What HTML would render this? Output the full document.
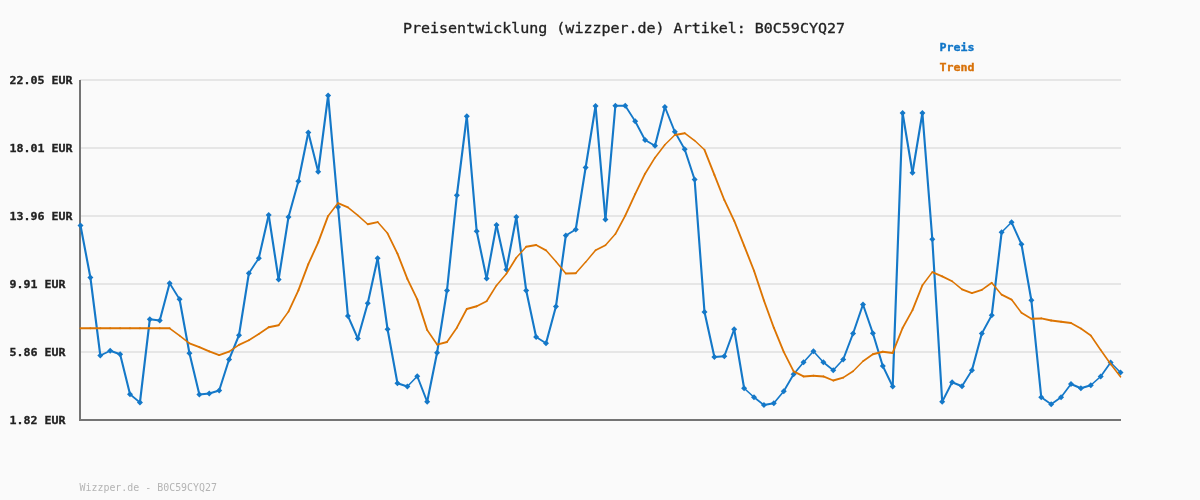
<!DOCTYPE html>
<html><head><meta charset="utf-8"><title>Preisentwicklung</title>
<style>
html,body{margin:0;padding:0;background:#fafafa;}
body{width:1200px;height:500px;overflow:hidden;}
svg{display:block;}
text{font-family:"DejaVu Sans Mono","Liberation Mono",monospace;}
.ax{font-family:"DejaVu Sans Mono","Liberation Mono",monospace;font-size:11px;font-weight:bold;fill:#222;stroke:#222;stroke-width:0.3px;}
.ti{font-size:13.7px;fill:#222;stroke:#222;stroke-width:0.3px;}
.lg{font-size:11px;font-weight:bold;}
.ft{font-size:11px;fill:#b4b4b4;}
</style></head><body>
<svg width="1200" height="500" viewBox="0 0 1200 500">
<rect width="1200" height="500" fill="#fafafa"/>
<rect x="80" y="79" width="1041" height="2" fill="#e6e6e6"/><rect x="80" y="147" width="1041" height="2" fill="#e6e6e6"/><rect x="80" y="215" width="1041" height="2" fill="#e6e6e6"/><rect x="80" y="283" width="1041" height="2" fill="#e6e6e6"/><rect x="80" y="351" width="1041" height="2" fill="#e6e6e6"/>
<rect x="79" y="80" width="2" height="341" fill="#747474"/>
<rect x="79" y="419" width="1042" height="2" fill="#747474"/>
<text x="403" y="33" textLength="442" lengthAdjust="spacingAndGlyphs" class="ti">Preisentwicklung (wizzper.de) Artikel: B0C59CYQ27</text>
<text transform="translate(9.5 84) scale(1 1)" textLength="63" lengthAdjust="spacingAndGlyphs" class="ax">22.05 EUR</text><text transform="translate(9.5 152) scale(1 1)" textLength="63" lengthAdjust="spacingAndGlyphs" class="ax">18.01 EUR</text><text transform="translate(9.5 220) scale(1 1)" textLength="63" lengthAdjust="spacingAndGlyphs" class="ax">13.96 EUR</text><text transform="translate(9.5 288) scale(1 1)" textLength="56" lengthAdjust="spacingAndGlyphs" class="ax">9.91 EUR</text><text transform="translate(9.5 356) scale(1 1)" textLength="56" lengthAdjust="spacingAndGlyphs" class="ax">5.86 EUR</text><text transform="translate(9.5 424) scale(1 1)" textLength="56" lengthAdjust="spacingAndGlyphs" class="ax">1.82 EUR</text>
<text x="939.4" y="51" textLength="35" lengthAdjust="spacingAndGlyphs" class="lg" fill="#1176c8" stroke="#1176c8" stroke-width="0.35">Preis</text>
<text x="939.4" y="71" textLength="35" lengthAdjust="spacingAndGlyphs" class="lg" fill="#d8720a" stroke="#d8720a" stroke-width="0.35">Trend</text>
<g stroke="#1478c8" stroke-linecap="round" fill="none"><line x1="80.50" y1="225.50" x2="90.40" y2="277.50" stroke-width="2.11"/><line x1="90.40" y1="277.50" x2="100.31" y2="355.50" stroke-width="2.13"/><line x1="100.31" y1="355.50" x2="110.21" y2="350.75" stroke-width="1.94"/><line x1="110.21" y1="350.75" x2="120.12" y2="354.25" stroke-width="2.03"/><line x1="120.12" y1="354.25" x2="130.02" y2="394.25" stroke-width="2.09"/><line x1="130.02" y1="394.25" x2="139.93" y2="402.50" stroke-width="1.65"/><line x1="139.93" y1="402.50" x2="149.83" y2="319.25" stroke-width="2.13"/><line x1="149.83" y1="319.25" x2="159.74" y2="320.50" stroke-width="2.13"/><line x1="159.74" y1="320.50" x2="169.64" y2="283.25" stroke-width="2.08"/><line x1="169.64" y1="283.25" x2="179.55" y2="299.25" stroke-width="1.83"/><line x1="179.55" y1="299.25" x2="189.45" y2="353.25" stroke-width="2.11"/><line x1="189.45" y1="353.25" x2="199.36" y2="394.50" stroke-width="2.09"/><line x1="199.36" y1="394.50" x2="209.26" y2="393.50" stroke-width="2.14"/><line x1="209.26" y1="393.50" x2="219.17" y2="390.50" stroke-width="2.06"/><line x1="219.17" y1="390.50" x2="229.07" y2="359.50" stroke-width="2.05"/><line x1="229.07" y1="359.50" x2="238.98" y2="335.25" stroke-width="1.99"/><line x1="238.98" y1="335.25" x2="248.88" y2="273.25" stroke-width="2.12"/><line x1="248.88" y1="273.25" x2="258.79" y2="258.25" stroke-width="1.79"/><line x1="258.79" y1="258.25" x2="268.69" y2="215.00" stroke-width="2.10"/><line x1="268.69" y1="215.00" x2="278.60" y2="279.50" stroke-width="2.13"/><line x1="278.60" y1="279.50" x2="288.50" y2="217.00" stroke-width="2.12"/><line x1="288.50" y1="217.00" x2="298.40" y2="181.25" stroke-width="2.07"/><line x1="298.40" y1="181.25" x2="308.31" y2="132.50" stroke-width="2.11"/><line x1="308.31" y1="132.50" x2="318.21" y2="171.75" stroke-width="2.08"/><line x1="318.21" y1="171.75" x2="328.12" y2="95.50" stroke-width="2.13"/><line x1="328.12" y1="95.50" x2="338.02" y2="207.00" stroke-width="2.14"/><line x1="338.02" y1="207.00" x2="347.93" y2="316.00" stroke-width="2.14"/><line x1="347.93" y1="316.00" x2="357.83" y2="338.50" stroke-width="1.97"/><line x1="357.83" y1="338.50" x2="367.74" y2="303.25" stroke-width="2.07"/><line x1="367.74" y1="303.25" x2="377.64" y2="258.25" stroke-width="2.10"/><line x1="377.64" y1="258.25" x2="387.55" y2="329.25" stroke-width="2.13"/><line x1="387.55" y1="329.25" x2="397.45" y2="383.25" stroke-width="2.11"/><line x1="397.45" y1="383.25" x2="407.36" y2="386.50" stroke-width="2.04"/><line x1="407.36" y1="386.50" x2="417.26" y2="376.25" stroke-width="1.55"/><line x1="417.26" y1="376.25" x2="427.17" y2="401.75" stroke-width="2.00"/><line x1="427.17" y1="401.75" x2="437.07" y2="352.75" stroke-width="2.11"/><line x1="437.07" y1="352.75" x2="446.98" y2="290.50" stroke-width="2.12"/><line x1="446.98" y1="290.50" x2="456.88" y2="195.25" stroke-width="2.14"/><line x1="456.88" y1="195.25" x2="466.79" y2="116.25" stroke-width="2.13"/><line x1="466.79" y1="116.25" x2="476.69" y2="231.25" stroke-width="2.14"/><line x1="476.69" y1="231.25" x2="486.60" y2="278.50" stroke-width="2.10"/><line x1="486.60" y1="278.50" x2="496.50" y2="225.00" stroke-width="2.11"/><line x1="496.50" y1="225.00" x2="506.40" y2="269.50" stroke-width="2.10"/><line x1="506.40" y1="269.50" x2="516.31" y2="217.00" stroke-width="2.11"/><line x1="516.31" y1="217.00" x2="526.21" y2="290.50" stroke-width="2.13"/><line x1="526.21" y1="290.50" x2="536.12" y2="337.00" stroke-width="2.10"/><line x1="536.12" y1="337.00" x2="546.02" y2="343.25" stroke-width="1.82"/><line x1="546.02" y1="343.25" x2="555.93" y2="306.50" stroke-width="2.08"/><line x1="555.93" y1="306.50" x2="565.83" y2="235.50" stroke-width="2.13"/><line x1="565.83" y1="235.50" x2="575.74" y2="229.50" stroke-width="1.84"/><line x1="575.74" y1="229.50" x2="585.64" y2="167.50" stroke-width="2.12"/><line x1="585.64" y1="167.50" x2="595.55" y2="106.00" stroke-width="2.12"/><line x1="595.55" y1="106.00" x2="605.45" y2="219.50" stroke-width="2.14"/><line x1="605.45" y1="219.50" x2="615.36" y2="105.75" stroke-width="2.14"/><line x1="615.36" y1="105.75" x2="625.26" y2="105.75" stroke-width="2.15"/><line x1="625.26" y1="105.75" x2="635.17" y2="121.25" stroke-width="1.81"/><line x1="635.17" y1="121.25" x2="645.07" y2="140.00" stroke-width="1.90"/><line x1="645.07" y1="140.00" x2="654.98" y2="145.75" stroke-width="1.86"/><line x1="654.98" y1="145.75" x2="664.88" y2="107.00" stroke-width="2.08"/><line x1="664.88" y1="107.00" x2="674.79" y2="131.75" stroke-width="2.00"/><line x1="674.79" y1="131.75" x2="684.69" y2="149.25" stroke-width="1.87"/><line x1="684.69" y1="149.25" x2="694.60" y2="179.50" stroke-width="2.04"/><line x1="694.60" y1="179.50" x2="704.50" y2="312.00" stroke-width="2.14"/><line x1="704.50" y1="312.00" x2="714.40" y2="357.00" stroke-width="2.10"/><line x1="714.40" y1="357.00" x2="724.31" y2="356.25" stroke-width="2.14"/><line x1="724.31" y1="356.25" x2="734.21" y2="329.25" stroke-width="2.02"/><line x1="734.21" y1="329.25" x2="744.12" y2="388.25" stroke-width="2.12"/><line x1="744.12" y1="388.25" x2="754.02" y2="397.25" stroke-width="1.59"/><line x1="754.02" y1="397.25" x2="763.93" y2="405.00" stroke-width="1.69"/><line x1="763.93" y1="405.00" x2="773.83" y2="403.25" stroke-width="2.12"/><line x1="773.83" y1="403.25" x2="783.74" y2="391.25" stroke-width="1.66"/><line x1="783.74" y1="391.25" x2="793.64" y2="374.25" stroke-width="1.86"/><line x1="793.64" y1="374.25" x2="803.55" y2="362.25" stroke-width="1.66"/><line x1="803.55" y1="362.25" x2="813.45" y2="351.25" stroke-width="1.60"/><line x1="813.45" y1="351.25" x2="823.36" y2="362.25" stroke-width="1.60"/><line x1="823.36" y1="362.25" x2="833.26" y2="370.25" stroke-width="1.67"/><line x1="833.26" y1="370.25" x2="843.17" y2="359.50" stroke-width="1.58"/><line x1="843.17" y1="359.50" x2="853.07" y2="333.50" stroke-width="2.01"/><line x1="853.07" y1="333.50" x2="862.98" y2="304.50" stroke-width="2.03"/><line x1="862.98" y1="304.50" x2="872.88" y2="333.25" stroke-width="2.03"/><line x1="872.88" y1="333.25" x2="882.79" y2="366.00" stroke-width="2.06"/><line x1="882.79" y1="366.00" x2="892.69" y2="386.50" stroke-width="1.94"/><line x1="892.69" y1="386.50" x2="902.60" y2="113.00" stroke-width="2.15"/><line x1="902.60" y1="113.00" x2="912.50" y2="172.75" stroke-width="2.12"/><line x1="912.50" y1="172.75" x2="922.40" y2="113.00" stroke-width="2.12"/><line x1="922.40" y1="113.00" x2="932.31" y2="239.25" stroke-width="2.14"/><line x1="932.31" y1="239.25" x2="942.21" y2="401.75" stroke-width="2.15"/><line x1="942.21" y1="401.75" x2="952.12" y2="382.25" stroke-width="1.92"/><line x1="952.12" y1="382.25" x2="962.02" y2="386.25" stroke-width="1.99"/><line x1="962.02" y1="386.25" x2="971.93" y2="370.25" stroke-width="1.83"/><line x1="971.93" y1="370.25" x2="981.83" y2="333.50" stroke-width="2.08"/><line x1="981.83" y1="333.50" x2="991.74" y2="315.25" stroke-width="1.89"/><line x1="991.74" y1="315.25" x2="1001.64" y2="232.25" stroke-width="2.13"/><line x1="1001.64" y1="232.25" x2="1011.55" y2="222.25" stroke-width="1.53"/><line x1="1011.55" y1="222.25" x2="1021.45" y2="244.25" stroke-width="1.96"/><line x1="1021.45" y1="244.25" x2="1031.36" y2="300.25" stroke-width="2.12"/><line x1="1031.36" y1="300.25" x2="1041.26" y2="397.25" stroke-width="2.14"/><line x1="1041.26" y1="397.25" x2="1051.17" y2="404.25" stroke-width="1.76"/><line x1="1051.17" y1="404.25" x2="1061.07" y2="397.25" stroke-width="1.76"/><line x1="1061.07" y1="397.25" x2="1070.98" y2="384.00" stroke-width="1.72"/><line x1="1070.98" y1="384.00" x2="1080.88" y2="388.25" stroke-width="1.98"/><line x1="1080.88" y1="388.25" x2="1090.79" y2="385.25" stroke-width="2.06"/><line x1="1090.79" y1="385.25" x2="1100.69" y2="376.50" stroke-width="1.61"/><line x1="1100.69" y1="376.50" x2="1110.60" y2="362.50" stroke-width="1.76"/><line x1="1110.60" y1="362.50" x2="1120.50" y2="372.50" stroke-width="1.53"/></g>
<path d="M80.50 222.50L83.50 225.50L80.50 228.50L77.50 225.50Z" fill="#1478c8"/><path d="M90.40 274.50L93.40 277.50L90.40 280.50L87.40 277.50Z" fill="#1478c8"/><path d="M100.31 352.50L103.31 355.50L100.31 358.50L97.31 355.50Z" fill="#1478c8"/><path d="M110.21 347.75L113.21 350.75L110.21 353.75L107.21 350.75Z" fill="#1478c8"/><path d="M120.12 351.25L123.12 354.25L120.12 357.25L117.12 354.25Z" fill="#1478c8"/><path d="M130.02 391.25L133.02 394.25L130.02 397.25L127.02 394.25Z" fill="#1478c8"/><path d="M139.93 399.50L142.93 402.50L139.93 405.50L136.93 402.50Z" fill="#1478c8"/><path d="M149.83 316.25L152.83 319.25L149.83 322.25L146.83 319.25Z" fill="#1478c8"/><path d="M159.74 317.50L162.74 320.50L159.74 323.50L156.74 320.50Z" fill="#1478c8"/><path d="M169.64 280.25L172.64 283.25L169.64 286.25L166.64 283.25Z" fill="#1478c8"/><path d="M179.55 296.25L182.55 299.25L179.55 302.25L176.55 299.25Z" fill="#1478c8"/><path d="M189.45 350.25L192.45 353.25L189.45 356.25L186.45 353.25Z" fill="#1478c8"/><path d="M199.36 391.50L202.36 394.50L199.36 397.50L196.36 394.50Z" fill="#1478c8"/><path d="M209.26 390.50L212.26 393.50L209.26 396.50L206.26 393.50Z" fill="#1478c8"/><path d="M219.17 387.50L222.17 390.50L219.17 393.50L216.17 390.50Z" fill="#1478c8"/><path d="M229.07 356.50L232.07 359.50L229.07 362.50L226.07 359.50Z" fill="#1478c8"/><path d="M238.98 332.25L241.98 335.25L238.98 338.25L235.98 335.25Z" fill="#1478c8"/><path d="M248.88 270.25L251.88 273.25L248.88 276.25L245.88 273.25Z" fill="#1478c8"/><path d="M258.79 255.25L261.79 258.25L258.79 261.25L255.79 258.25Z" fill="#1478c8"/><path d="M268.69 212.00L271.69 215.00L268.69 218.00L265.69 215.00Z" fill="#1478c8"/><path d="M278.60 276.50L281.60 279.50L278.60 282.50L275.60 279.50Z" fill="#1478c8"/><path d="M288.50 214.00L291.50 217.00L288.50 220.00L285.50 217.00Z" fill="#1478c8"/><path d="M298.40 178.25L301.40 181.25L298.40 184.25L295.40 181.25Z" fill="#1478c8"/><path d="M308.31 129.50L311.31 132.50L308.31 135.50L305.31 132.50Z" fill="#1478c8"/><path d="M318.21 168.75L321.21 171.75L318.21 174.75L315.21 171.75Z" fill="#1478c8"/><path d="M328.12 92.50L331.12 95.50L328.12 98.50L325.12 95.50Z" fill="#1478c8"/><path d="M338.02 204.00L341.02 207.00L338.02 210.00L335.02 207.00Z" fill="#1478c8"/><path d="M347.93 313.00L350.93 316.00L347.93 319.00L344.93 316.00Z" fill="#1478c8"/><path d="M357.83 335.50L360.83 338.50L357.83 341.50L354.83 338.50Z" fill="#1478c8"/><path d="M367.74 300.25L370.74 303.25L367.74 306.25L364.74 303.25Z" fill="#1478c8"/><path d="M377.64 255.25L380.64 258.25L377.64 261.25L374.64 258.25Z" fill="#1478c8"/><path d="M387.55 326.25L390.55 329.25L387.55 332.25L384.55 329.25Z" fill="#1478c8"/><path d="M397.45 380.25L400.45 383.25L397.45 386.25L394.45 383.25Z" fill="#1478c8"/><path d="M407.36 383.50L410.36 386.50L407.36 389.50L404.36 386.50Z" fill="#1478c8"/><path d="M417.26 373.25L420.26 376.25L417.26 379.25L414.26 376.25Z" fill="#1478c8"/><path d="M427.17 398.75L430.17 401.75L427.17 404.75L424.17 401.75Z" fill="#1478c8"/><path d="M437.07 349.75L440.07 352.75L437.07 355.75L434.07 352.75Z" fill="#1478c8"/><path d="M446.98 287.50L449.98 290.50L446.98 293.50L443.98 290.50Z" fill="#1478c8"/><path d="M456.88 192.25L459.88 195.25L456.88 198.25L453.88 195.25Z" fill="#1478c8"/><path d="M466.79 113.25L469.79 116.25L466.79 119.25L463.79 116.25Z" fill="#1478c8"/><path d="M476.69 228.25L479.69 231.25L476.69 234.25L473.69 231.25Z" fill="#1478c8"/><path d="M486.60 275.50L489.60 278.50L486.60 281.50L483.60 278.50Z" fill="#1478c8"/><path d="M496.50 222.00L499.50 225.00L496.50 228.00L493.50 225.00Z" fill="#1478c8"/><path d="M506.40 266.50L509.40 269.50L506.40 272.50L503.40 269.50Z" fill="#1478c8"/><path d="M516.31 214.00L519.31 217.00L516.31 220.00L513.31 217.00Z" fill="#1478c8"/><path d="M526.21 287.50L529.21 290.50L526.21 293.50L523.21 290.50Z" fill="#1478c8"/><path d="M536.12 334.00L539.12 337.00L536.12 340.00L533.12 337.00Z" fill="#1478c8"/><path d="M546.02 340.25L549.02 343.25L546.02 346.25L543.02 343.25Z" fill="#1478c8"/><path d="M555.93 303.50L558.93 306.50L555.93 309.50L552.93 306.50Z" fill="#1478c8"/><path d="M565.83 232.50L568.83 235.50L565.83 238.50L562.83 235.50Z" fill="#1478c8"/><path d="M575.74 226.50L578.74 229.50L575.74 232.50L572.74 229.50Z" fill="#1478c8"/><path d="M585.64 164.50L588.64 167.50L585.64 170.50L582.64 167.50Z" fill="#1478c8"/><path d="M595.55 103.00L598.55 106.00L595.55 109.00L592.55 106.00Z" fill="#1478c8"/><path d="M605.45 216.50L608.45 219.50L605.45 222.50L602.45 219.50Z" fill="#1478c8"/><path d="M615.36 102.75L618.36 105.75L615.36 108.75L612.36 105.75Z" fill="#1478c8"/><path d="M625.26 102.75L628.26 105.75L625.26 108.75L622.26 105.75Z" fill="#1478c8"/><path d="M635.17 118.25L638.17 121.25L635.17 124.25L632.17 121.25Z" fill="#1478c8"/><path d="M645.07 137.00L648.07 140.00L645.07 143.00L642.07 140.00Z" fill="#1478c8"/><path d="M654.98 142.75L657.98 145.75L654.98 148.75L651.98 145.75Z" fill="#1478c8"/><path d="M664.88 104.00L667.88 107.00L664.88 110.00L661.88 107.00Z" fill="#1478c8"/><path d="M674.79 128.75L677.79 131.75L674.79 134.75L671.79 131.75Z" fill="#1478c8"/><path d="M684.69 146.25L687.69 149.25L684.69 152.25L681.69 149.25Z" fill="#1478c8"/><path d="M694.60 176.50L697.60 179.50L694.60 182.50L691.60 179.50Z" fill="#1478c8"/><path d="M704.50 309.00L707.50 312.00L704.50 315.00L701.50 312.00Z" fill="#1478c8"/><path d="M714.40 354.00L717.40 357.00L714.40 360.00L711.40 357.00Z" fill="#1478c8"/><path d="M724.31 353.25L727.31 356.25L724.31 359.25L721.31 356.25Z" fill="#1478c8"/><path d="M734.21 326.25L737.21 329.25L734.21 332.25L731.21 329.25Z" fill="#1478c8"/><path d="M744.12 385.25L747.12 388.25L744.12 391.25L741.12 388.25Z" fill="#1478c8"/><path d="M754.02 394.25L757.02 397.25L754.02 400.25L751.02 397.25Z" fill="#1478c8"/><path d="M763.93 402.00L766.93 405.00L763.93 408.00L760.93 405.00Z" fill="#1478c8"/><path d="M773.83 400.25L776.83 403.25L773.83 406.25L770.83 403.25Z" fill="#1478c8"/><path d="M783.74 388.25L786.74 391.25L783.74 394.25L780.74 391.25Z" fill="#1478c8"/><path d="M793.64 371.25L796.64 374.25L793.64 377.25L790.64 374.25Z" fill="#1478c8"/><path d="M803.55 359.25L806.55 362.25L803.55 365.25L800.55 362.25Z" fill="#1478c8"/><path d="M813.45 348.25L816.45 351.25L813.45 354.25L810.45 351.25Z" fill="#1478c8"/><path d="M823.36 359.25L826.36 362.25L823.36 365.25L820.36 362.25Z" fill="#1478c8"/><path d="M833.26 367.25L836.26 370.25L833.26 373.25L830.26 370.25Z" fill="#1478c8"/><path d="M843.17 356.50L846.17 359.50L843.17 362.50L840.17 359.50Z" fill="#1478c8"/><path d="M853.07 330.50L856.07 333.50L853.07 336.50L850.07 333.50Z" fill="#1478c8"/><path d="M862.98 301.50L865.98 304.50L862.98 307.50L859.98 304.50Z" fill="#1478c8"/><path d="M872.88 330.25L875.88 333.25L872.88 336.25L869.88 333.25Z" fill="#1478c8"/><path d="M882.79 363.00L885.79 366.00L882.79 369.00L879.79 366.00Z" fill="#1478c8"/><path d="M892.69 383.50L895.69 386.50L892.69 389.50L889.69 386.50Z" fill="#1478c8"/><path d="M902.60 110.00L905.60 113.00L902.60 116.00L899.60 113.00Z" fill="#1478c8"/><path d="M912.50 169.75L915.50 172.75L912.50 175.75L909.50 172.75Z" fill="#1478c8"/><path d="M922.40 110.00L925.40 113.00L922.40 116.00L919.40 113.00Z" fill="#1478c8"/><path d="M932.31 236.25L935.31 239.25L932.31 242.25L929.31 239.25Z" fill="#1478c8"/><path d="M942.21 398.75L945.21 401.75L942.21 404.75L939.21 401.75Z" fill="#1478c8"/><path d="M952.12 379.25L955.12 382.25L952.12 385.25L949.12 382.25Z" fill="#1478c8"/><path d="M962.02 383.25L965.02 386.25L962.02 389.25L959.02 386.25Z" fill="#1478c8"/><path d="M971.93 367.25L974.93 370.25L971.93 373.25L968.93 370.25Z" fill="#1478c8"/><path d="M981.83 330.50L984.83 333.50L981.83 336.50L978.83 333.50Z" fill="#1478c8"/><path d="M991.74 312.25L994.74 315.25L991.74 318.25L988.74 315.25Z" fill="#1478c8"/><path d="M1001.64 229.25L1004.64 232.25L1001.64 235.25L998.64 232.25Z" fill="#1478c8"/><path d="M1011.55 219.25L1014.55 222.25L1011.55 225.25L1008.55 222.25Z" fill="#1478c8"/><path d="M1021.45 241.25L1024.45 244.25L1021.45 247.25L1018.45 244.25Z" fill="#1478c8"/><path d="M1031.36 297.25L1034.36 300.25L1031.36 303.25L1028.36 300.25Z" fill="#1478c8"/><path d="M1041.26 394.25L1044.26 397.25L1041.26 400.25L1038.26 397.25Z" fill="#1478c8"/><path d="M1051.17 401.25L1054.17 404.25L1051.17 407.25L1048.17 404.25Z" fill="#1478c8"/><path d="M1061.07 394.25L1064.07 397.25L1061.07 400.25L1058.07 397.25Z" fill="#1478c8"/><path d="M1070.98 381.00L1073.98 384.00L1070.98 387.00L1067.98 384.00Z" fill="#1478c8"/><path d="M1080.88 385.25L1083.88 388.25L1080.88 391.25L1077.88 388.25Z" fill="#1478c8"/><path d="M1090.79 382.25L1093.79 385.25L1090.79 388.25L1087.79 385.25Z" fill="#1478c8"/><path d="M1100.69 373.50L1103.69 376.50L1100.69 379.50L1097.69 376.50Z" fill="#1478c8"/><path d="M1110.60 359.50L1113.60 362.50L1110.60 365.50L1107.60 362.50Z" fill="#1478c8"/><path d="M1120.50 369.50L1123.50 372.50L1120.50 375.50L1117.50 372.50Z" fill="#1478c8"/>
<g stroke="#dc7402" stroke-linecap="round" fill="none"><line x1="80.50" y1="328.32" x2="90.40" y2="328.32" stroke-width="2.00"/><line x1="90.40" y1="328.32" x2="100.31" y2="328.32" stroke-width="2.00"/><line x1="100.31" y1="328.32" x2="110.21" y2="328.32" stroke-width="2.00"/><line x1="110.21" y1="328.32" x2="120.12" y2="328.32" stroke-width="2.00"/><line x1="120.12" y1="328.32" x2="130.02" y2="328.32" stroke-width="2.00"/><line x1="130.02" y1="328.32" x2="139.93" y2="328.32" stroke-width="2.00"/><line x1="139.93" y1="328.32" x2="149.83" y2="328.32" stroke-width="2.00"/><line x1="149.83" y1="328.32" x2="159.74" y2="328.32" stroke-width="2.00"/><line x1="159.74" y1="328.32" x2="169.64" y2="328.32" stroke-width="2.00"/><line x1="169.64" y1="328.32" x2="179.55" y2="335.70" stroke-width="1.60"/><line x1="179.55" y1="335.70" x2="189.45" y2="343.27" stroke-width="1.59"/><line x1="189.45" y1="343.27" x2="199.36" y2="347.18" stroke-width="1.86"/><line x1="199.36" y1="347.18" x2="209.26" y2="351.45" stroke-width="1.84"/><line x1="209.26" y1="351.45" x2="219.17" y2="355.07" stroke-width="1.88"/><line x1="219.17" y1="355.07" x2="229.07" y2="351.60" stroke-width="1.89"/><line x1="229.07" y1="351.60" x2="238.98" y2="344.88" stroke-width="1.65"/><line x1="238.98" y1="344.88" x2="248.88" y2="340.27" stroke-width="1.81"/><line x1="248.88" y1="340.27" x2="258.79" y2="334.05" stroke-width="1.69"/><line x1="258.79" y1="334.05" x2="268.69" y2="327.23" stroke-width="1.65"/><line x1="268.69" y1="327.23" x2="278.60" y2="325.25" stroke-width="1.96"/><line x1="278.60" y1="325.25" x2="288.50" y2="311.62" stroke-width="1.62"/><line x1="288.50" y1="311.62" x2="298.40" y2="290.30" stroke-width="1.81"/><line x1="298.40" y1="290.30" x2="308.31" y2="264.20" stroke-width="1.87"/><line x1="308.31" y1="264.20" x2="318.21" y2="242.32" stroke-width="1.82"/><line x1="318.21" y1="242.32" x2="328.12" y2="215.93" stroke-width="1.87"/><line x1="328.12" y1="215.93" x2="338.02" y2="203.10" stroke-width="1.58"/><line x1="338.02" y1="203.10" x2="347.93" y2="207.38" stroke-width="1.84"/><line x1="347.93" y1="207.38" x2="357.83" y2="215.40" stroke-width="1.55"/><line x1="357.83" y1="215.40" x2="367.74" y2="224.22" stroke-width="1.49"/><line x1="367.74" y1="224.22" x2="377.64" y2="222.10" stroke-width="1.96"/><line x1="377.64" y1="222.10" x2="387.55" y2="233.32" stroke-width="1.50"/><line x1="387.55" y1="233.32" x2="397.45" y2="253.53" stroke-width="1.80"/><line x1="397.45" y1="253.53" x2="407.36" y2="278.93" stroke-width="1.86"/><line x1="407.36" y1="278.93" x2="417.26" y2="299.38" stroke-width="1.80"/><line x1="417.26" y1="299.38" x2="427.17" y2="330.00" stroke-width="1.90"/><line x1="427.17" y1="330.00" x2="437.07" y2="344.57" stroke-width="1.65"/><line x1="437.07" y1="344.57" x2="446.98" y2="342.02" stroke-width="1.94"/><line x1="446.98" y1="342.02" x2="456.88" y2="327.70" stroke-width="1.65"/><line x1="456.88" y1="327.70" x2="466.79" y2="309.00" stroke-width="1.77"/><line x1="466.79" y1="309.00" x2="476.69" y2="306.30" stroke-width="1.93"/><line x1="476.69" y1="306.30" x2="486.60" y2="301.23" stroke-width="1.78"/><line x1="486.60" y1="301.23" x2="496.50" y2="285.40" stroke-width="1.70"/><line x1="496.50" y1="285.40" x2="506.40" y2="273.70" stroke-width="1.53"/><line x1="506.40" y1="273.70" x2="516.31" y2="257.77" stroke-width="1.70"/><line x1="516.31" y1="257.77" x2="526.21" y2="246.65" stroke-width="1.49"/><line x1="526.21" y1="246.65" x2="536.12" y2="245.07" stroke-width="1.98"/><line x1="536.12" y1="245.07" x2="546.02" y2="250.35" stroke-width="1.77"/><line x1="546.02" y1="250.35" x2="555.93" y2="261.48" stroke-width="1.49"/><line x1="555.93" y1="261.48" x2="565.83" y2="273.40" stroke-width="1.54"/><line x1="565.83" y1="273.40" x2="575.74" y2="273.23" stroke-width="2.00"/><line x1="575.74" y1="273.23" x2="585.64" y2="262.12" stroke-width="1.49"/><line x1="585.64" y1="262.12" x2="595.55" y2="250.22" stroke-width="1.54"/><line x1="595.55" y1="250.22" x2="605.45" y2="245.22" stroke-width="1.79"/><line x1="605.45" y1="245.22" x2="615.36" y2="234.10" stroke-width="1.49"/><line x1="615.36" y1="234.10" x2="625.26" y2="215.62" stroke-width="1.76"/><line x1="625.26" y1="215.62" x2="635.17" y2="194.05" stroke-width="1.82"/><line x1="635.17" y1="194.05" x2="645.07" y2="173.72" stroke-width="1.80"/><line x1="645.07" y1="173.72" x2="654.98" y2="157.65" stroke-width="1.70"/><line x1="654.98" y1="157.65" x2="664.88" y2="144.80" stroke-width="1.58"/><line x1="664.88" y1="144.80" x2="674.79" y2="135.03" stroke-width="1.42"/><line x1="674.79" y1="135.03" x2="684.69" y2="133.20" stroke-width="1.97"/><line x1="684.69" y1="133.20" x2="694.60" y2="140.55" stroke-width="1.61"/><line x1="694.60" y1="140.55" x2="704.50" y2="149.80" stroke-width="1.46"/><line x1="704.50" y1="149.80" x2="714.40" y2="174.93" stroke-width="1.86"/><line x1="714.40" y1="174.93" x2="724.31" y2="199.97" stroke-width="1.86"/><line x1="724.31" y1="199.97" x2="734.21" y2="220.78" stroke-width="1.81"/><line x1="734.21" y1="220.78" x2="744.12" y2="245.60" stroke-width="1.86"/><line x1="744.12" y1="245.60" x2="754.02" y2="270.75" stroke-width="1.86"/><line x1="754.02" y1="270.75" x2="763.93" y2="300.55" stroke-width="1.90"/><line x1="763.93" y1="300.55" x2="773.83" y2="327.70" stroke-width="1.88"/><line x1="773.83" y1="327.70" x2="783.74" y2="351.90" stroke-width="1.85"/><line x1="783.74" y1="351.90" x2="793.64" y2="371.38" stroke-width="1.78"/><line x1="793.64" y1="371.38" x2="803.55" y2="376.40" stroke-width="1.78"/><line x1="803.55" y1="376.40" x2="813.45" y2="375.82" stroke-width="2.00"/><line x1="813.45" y1="375.82" x2="823.36" y2="376.43" stroke-width="2.00"/><line x1="823.36" y1="376.43" x2="833.26" y2="380.52" stroke-width="1.85"/><line x1="833.26" y1="380.52" x2="843.17" y2="377.65" stroke-width="1.92"/><line x1="843.17" y1="377.65" x2="853.07" y2="371.27" stroke-width="1.68"/><line x1="853.07" y1="371.27" x2="862.98" y2="361.23" stroke-width="1.42"/><line x1="862.98" y1="361.23" x2="872.88" y2="354.23" stroke-width="1.63"/><line x1="872.88" y1="354.23" x2="882.79" y2="351.70" stroke-width="1.94"/><line x1="882.79" y1="351.70" x2="892.69" y2="352.93" stroke-width="1.98"/><line x1="892.69" y1="352.93" x2="902.60" y2="328.00" stroke-width="1.86"/><line x1="902.60" y1="328.00" x2="912.50" y2="310.15" stroke-width="1.75"/><line x1="912.50" y1="310.15" x2="922.40" y2="285.23" stroke-width="1.86"/><line x1="922.40" y1="285.23" x2="932.31" y2="272.12" stroke-width="1.60"/><line x1="932.31" y1="272.12" x2="942.21" y2="276.35" stroke-width="1.84"/><line x1="942.21" y1="276.35" x2="952.12" y2="281.23" stroke-width="1.79"/><line x1="952.12" y1="281.23" x2="962.02" y2="289.40" stroke-width="1.54"/><line x1="962.02" y1="289.40" x2="971.93" y2="293.10" stroke-width="1.87"/><line x1="971.93" y1="293.10" x2="981.83" y2="289.85" stroke-width="1.90"/><line x1="981.83" y1="289.85" x2="991.74" y2="282.73" stroke-width="1.62"/><line x1="991.74" y1="282.73" x2="1001.64" y2="294.65" stroke-width="1.54"/><line x1="1001.64" y1="294.65" x2="1011.55" y2="299.60" stroke-width="1.79"/><line x1="1011.55" y1="299.60" x2="1021.45" y2="312.73" stroke-width="1.60"/><line x1="1021.45" y1="312.73" x2="1031.36" y2="318.82" stroke-width="1.70"/><line x1="1031.36" y1="318.82" x2="1041.26" y2="318.38" stroke-width="2.00"/><line x1="1041.26" y1="318.38" x2="1051.17" y2="320.57" stroke-width="1.95"/><line x1="1051.17" y1="320.57" x2="1061.07" y2="321.68" stroke-width="1.99"/><line x1="1061.07" y1="321.68" x2="1070.98" y2="323.05" stroke-width="1.98"/><line x1="1070.98" y1="323.05" x2="1080.88" y2="328.52" stroke-width="1.75"/><line x1="1080.88" y1="328.52" x2="1090.79" y2="335.52" stroke-width="1.63"/><line x1="1090.79" y1="335.52" x2="1100.69" y2="349.95" stroke-width="1.65"/><line x1="1100.69" y1="349.95" x2="1110.60" y2="363.98" stroke-width="1.63"/><line x1="1110.60" y1="363.98" x2="1120.50" y2="376.80" stroke-width="1.58"/></g>
<text x="79.5" y="491" textLength="137.5" lengthAdjust="spacingAndGlyphs" class="ft">Wizzper.de - B0C59CYQ27</text>
</svg>
</body></html>
